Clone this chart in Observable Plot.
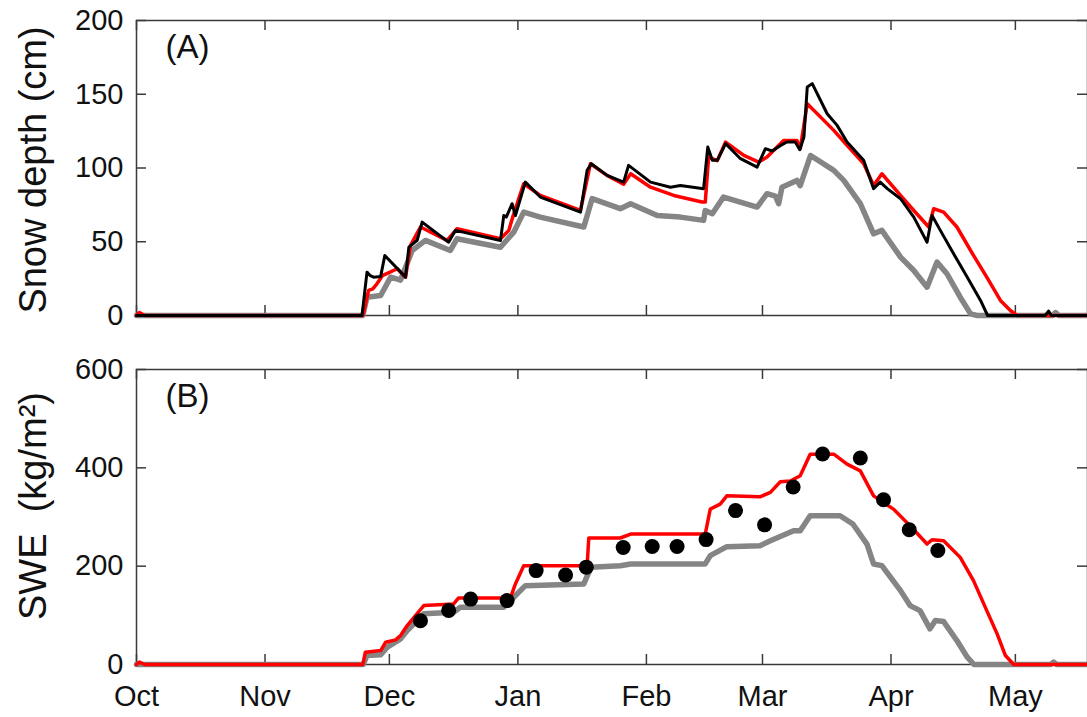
<!DOCTYPE html>
<html>
<head>
<meta charset="utf-8">
<script src="https://cdn.jsdelivr.net/npm/d3@7"></script>
<script src="https://cdn.jsdelivr.net/npm/@observablehq/plot@0.6"></script>
<style>
  html, body { margin: 0; padding: 0; background: #fff; overflow: hidden; }
  svg { display: block; }
</style>
</head>
<body>
<div id="chart"></div>
<script>
// x positions are days since 1 October
const monthDays = [0, 31, 61, 92, 123, 151, 182, 212];
const monthLabels = ["Oct", "Nov", "Dec", "Jan", "Feb", "Mar", "Apr", "May"];
const seasonEnd = 229.4;
const depthTicks = [0, 50, 100, 150, 200];
const sweTicks = [0, 200, 400, 600];

// Panel A: snow depth (cm), [day, value]
const depthBlack = [[0,0],[54.4,0],[55.6,29.4],[56.4,27],[57.2,26],[58.9,26.5],[59.9,40.7],[64.9,26],[65.7,46.3],[67.7,51],[68.9,63.3],[75.3,49.7],[76.9,57.7],[87.8,50.9],[88.6,67.8],[89.2,66.7],[90.6,75.8],[91.4,67.8],[93.8,90.4],[97.4,80.3],[107.1,70.1],[108.7,98.4],[109.7,102.9],[113.5,95],[117.5,90.4],[118.7,101.8],[124,90.4],[128.8,87],[131.2,88.2],[136.8,86],[137.8,114.2],[138.9,105.2],[140.1,105.2],[142.1,116.5],[145.7,106.3],[149.7,100.6],[151.7,113.1],[153.3,111.5],[155.4,115.3],[156.9,117.6],[158.9,117.6],[160,112.4],[161,121],[161.8,154.9],[163,157.2],[166.6,136.8],[169,128.9],[171.4,117.6],[175.4,105.2],[177.8,86],[179.4,90.4],[181.1,86],[184.3,79.2],[187.5,66.7],[190.7,49.7],[191.9,67.8],[193.9,57.7],[197.1,41.9],[200.4,26],[203.6,10.2],[205.3,0],[219.2,0],[220,3],[220.7,0],[229.4,0]];
const depthRed = [[0,0],[0.7,2],[2,0],[54.6,0],[56,17],[57,18],[58,21.5],[59.3,27],[62.9,31.7],[64.9,26],[66.1,47.5],[68.5,60],[74.9,50.9],[77.3,58.8],[87.8,52],[89.8,57.7],[91,69],[93.4,89.3],[97.4,81.4],[107.1,71.2],[109.5,102.9],[113.5,95],[117.5,89],[119.2,96.1],[124,87],[129.6,81.4],[136.4,76.9],[137.2,76.9],[138,107.4],[140.1,105],[142.1,117.6],[146.5,108.5],[150.1,104],[152.1,107.4],[156.1,118.7],[159.3,118.7],[160.1,113],[161.8,143.6],[168.2,125.5],[171.4,115.3],[175.4,103],[177.8,88.2],[179.8,96.1],[184.3,81.4],[187.5,71.2],[191.1,60],[192.3,72.4],[194.7,70.1],[197.9,60],[201.9,40.7],[205.1,26],[208.4,10.2],[210.8,3.4],[212.4,0],[229.4,0]];
const depthGray = [[0,0],[54.6,0],[55.6,12.4],[58.9,13.6],[61.3,26],[63.7,24],[66.5,44.1],[69.7,50.9],[75.7,44.1],[77.3,52],[87.8,46.3],[91,56.5],[93.4,70.1],[97.4,66.7],[107.9,60],[109.9,79.2],[116.7,72.4],[119.2,75.8],[125.6,67.8],[131.2,66.7],[136.8,64.5],[137.2,71.2],[138.9,69],[141.6,80.3],[149.7,73.5],[152.1,82.6],[154.1,81],[154.9,75.8],[155.7,87],[159.3,91.6],[160.1,88],[162.6,108.5],[168.2,98.4],[170.6,91.6],[174.6,75.8],[177.8,55.4],[179.8,57.7],[184.3,39.6],[187.5,30.5],[190.7,19.2],[193.1,36.2],[195.5,28.3],[198.7,12.4],[201.2,1.1],[202.8,0],[221,0],[221.7,2],[222.5,0],[229.4,0]];

// Panel B: SWE (kg/m2), [day, value]
const sweRed = [[0,0],[0.7,5],[2,0],[54.6,0],[55.2,25],[58.9,28.4],[60.1,45.3],[62.5,50],[63.7,58.9],[65.3,79.2],[69.3,119.8],[76.5,123.2],[77.7,135.4],[90.2,135.4],[91.4,163.9],[93.4,201],[108.7,201],[109.1,257.3],[116.7,257.3],[119.2,265.4],[137.2,265.4],[138.4,316],[140.8,326.3],[142.4,343],[150.4,341],[152.9,350],[155.3,371.6],[157.7,373],[160.1,383.8],[162.5,427.8],[168.2,427.8],[171.4,407.5],[174.6,393.9],[177.8,343],[182.6,316],[186.6,282.2],[190.7,245],[191.9,253.8],[194.7,251.8],[198.7,217.9],[201.9,170.6],[205.1,109.6],[207.6,62.3],[209.6,18.3],[211.6,0],[229.4,0]];
const sweGray = [[0,0],[54.7,0],[55.6,18.3],[58.9,20],[60.5,35.2],[63.7,52.1],[65.3,69],[69.3,103],[76.5,106.3],[78.1,116.4],[88.6,116.4],[91,136.7],[93.8,160.4],[107.9,163.9],[109.6,197.6],[116.7,201],[119.2,204.5],[137.2,204.5],[138.4,221.3],[142.4,239.6],[150.4,241.6],[152.9,251.8],[158.5,272],[160.1,272],[162.5,302.5],[169.7,302.5],[172.8,285.7],[176.2,245],[177.8,204.5],[179.8,201],[184.3,150.3],[186.6,119.8],[189,109.6],[191.4,72.5],[192.7,89.3],[194.7,87.3],[197.9,48.7],[200.4,14.8],[202,0],[220.5,0],[221.2,5],[222,0],[229.4,0]];
const sweObsDay = [68.5,75.3,80.6,89.4,96.4,103.5,108.5,117.4,124.4,130.4,137.4,144.5,151.5,158.4,165.5,174.6,180.2,186.4,193.3];
const sweObsVal = [89,110,133,130,191,182,198,238,240,240,254,313,284,361,428,420,335,274,232];

const W = 1087, ML = 136, MR = 0;
const FONT = "'Liberation Sans', Arial, sans-serif";
const frameColor = "#3a3a3a";
const TICK = 10;

function panel({height, mt, mb, yDomain, yTicks, yLabel, yLabelDy, tag, series, dots, showX}) {
  const plotH = height - mt - mb;
  const plotW = W - ML - MR;
  const marks = [
    Plot.frame({stroke: frameColor, strokeWidth: 1.5}),
    // inward ticks on all four sides
    Plot.tickX(monthDays, {x: d => d, insetTop: plotH - TICK, stroke: frameColor, strokeWidth: 1.5}),
    Plot.tickX(monthDays, {x: d => d, insetBottom: plotH - TICK, stroke: frameColor, strokeWidth: 1.5}),
    Plot.tickY(yTicks, {y: d => d, insetRight: plotW - TICK, stroke: frameColor, strokeWidth: 1.5}),
    Plot.tickY(yTicks, {y: d => d, insetLeft: plotW - TICK, stroke: frameColor, strokeWidth: 1.5}),
    Plot.axisY(yTicks, {tickSize: 0, tickPadding: 13, fontSize: 29, label: null, fill: "#111"}),
    Plot.text([yLabel], {frameAnchor: "left", textAnchor: "middle", lineAnchor: "middle", dx: -103, dy: yLabelDy, rotate: -90, fontSize: 38, fill: "#111"}),
    Plot.text([tag], {frameAnchor: "top-left", dx: 29, dy: 14, textAnchor: "start", lineAnchor: "top", fontSize: 33, fill: "#111"})
  ];
  for (const s of series) {
    marks.push(Plot.line(s.data, {x: d => d[0], y: d => d[1], stroke: s.color, strokeWidth: s.width, strokeLinejoin: "round", strokeLinecap: "round"}));
  }
  if (dots) {
    marks.push(Plot.dot(dots.day, {x: d => d, y: (d, i) => dots.val[i], r: 7.5, fill: "#000", stroke: "none"}));
  }
  if (showX) {
    marks.push(Plot.axisX(monthDays, {tickSize: 0, tickPadding: 21, fontSize: 29, label: null, fill: "#111",
      tickFormat: d => monthLabels[monthDays.indexOf(d)]}));
  }
  return Plot.plot({
    width: W, height,
    marginLeft: ML, marginRight: MR, marginTop: mt, marginBottom: mb,
    style: {fontFamily: FONT, background: "#fff", overflow: "visible"},
    x: {type: "linear", domain: [0, seasonEnd], axis: showX ? undefined : null},
    y: {domain: yDomain, axis: null},
    marks
  });
}

const chart = document.getElementById("chart");
chart.appendChild(panel({
  height: 340, mt: 20, mb: 25, yDomain: [0, 200], yTicks: depthTicks,
  yLabel: "Snow depth (cm)", yLabelDy: 2, tag: "(A)",
  series: [
    {data: depthGray, color: "#858585", width: 5.5},
    {data: depthRed, color: "#ff0000", width: 3.5},
    {data: depthBlack, color: "#000000", width: 3}
  ],
  showX: false
}));
chart.appendChild(panel({
  height: 377, mt: 29, mb: 53, yDomain: [0, 600], yTicks: sweTicks,
  yLabel: "SWE\u00a0\u00a0(kg/m²)", yLabelDy: -11, tag: "(B)",
  series: [
    {data: sweGray, color: "#858585", width: 5.5},
    {data: sweRed, color: "#ff0000", width: 3.5}
  ],
  dots: {day: sweObsDay, val: sweObsVal},
  showX: true
}));
</script>
</body>
</html>
